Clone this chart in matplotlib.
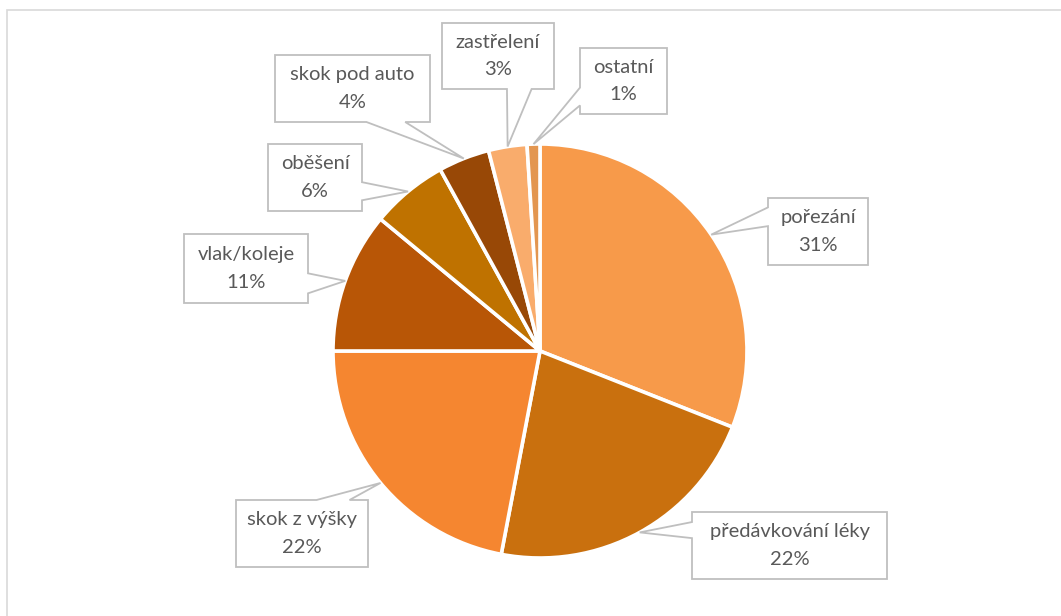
import numpy as np
import matplotlib.pyplot as plt
from matplotlib.patches import Polygon

labels = ["pořezání", "předávkování léky", "skok z výšky", "vlak/koleje",
          "oběšení", "skok pod auto", "zastřelení", "ostatní"]
shares = [31, 22, 22, 11, 6, 4, 3, 1]
colors = ["#F79A4A", "#C9700E", "#F58630", "#B85606",
          "#BF7200", "#984806", "#F9AC6C", "#E39650"]

W, H = 1061, 616
CX, CY, R = 540, 265, 207

# callout boxes: (left, top, right, bottom) in pixels from the top-left,
# the side the pointer leaves from and where its base sits on that side
callouts = [
    ((768, 198, 868, 265), "left", (0.14, 0.42)),
    ((692, 512, 887, 579), "left", (0.15, 0.39)),
    ((236, 500, 368, 567), "top", (0.61, 0.86)),
    ((184, 234, 308, 303), "right", (0.57, 0.86)),
    ((268, 144, 362, 211), "right", (0.57, 0.84)),
    ((275, 55, 430, 122), "bottom", (0.59, 0.84)),
    ((442, 23, 554, 89), "bottom", (0.58, 0.80)),
    ((580, 48, 667, 114), "left", (0.60, 0.87)),
]

plt.rcParams['font.family'] = ['Lato', 'DejaVu Sans']

fig = plt.figure(figsize=(W / 100, H / 100), dpi=100)
ax = fig.add_axes([0, 0, 1, 1])

wedges, _ = ax.pie(shares, colors=colors, startangle=90, counterclock=False,
                   center=(CX, CY), radius=R,
                   wedgeprops=dict(edgecolor="white", linewidth=2.6))
ax.set_xlim(0, W)
ax.set_ylim(0, H)
ax.axis("off")

# thin chart-area border
ax.plot([7, 7, W], [0, H - 10, H - 10], color="#D9D9D9", lw=1.2,
        solid_joinstyle="miter")


def callout_points(box, side, frac, tip):
    x0, y0, x1, y1 = box
    w, h = x1 - x0, y1 - y0
    top = [(x0, y0), (x1, y0)]
    right = [(x1, y0), (x1, y1)]
    bottom = [(x1, y1), (x0, y1)]
    left = [(x0, y1), (x0, y0)]
    if side == "top":
        top = [(x0, y0), (x0 + frac[0] * w, y0), tip, (x0 + frac[1] * w, y0), (x1, y0)]
    elif side == "right":
        right = [(x1, y0), (x1, y0 + frac[0] * h), tip, (x1, y0 + frac[1] * h), (x1, y1)]
    elif side == "bottom":
        bottom = [(x1, y1), (x0 + frac[1] * w, y1), tip, (x0 + frac[0] * w, y1), (x0, y1)]
    else:
        left = [(x0, y1), (x0, y0 + frac[1] * h), tip, (x0, y0 + frac[0] * h), (x0, y0)]
    pts = top + right[1:] + bottom[1:] + left[1:-1]
    return [(px, H - py) for px, py in pts]


for wedge, name, val, (box, side, frac) in zip(wedges, labels, shares, callouts):
    mid = np.deg2rad((wedge.theta1 + wedge.theta2) / 2)
    tip = (CX + R * np.cos(mid), H - (CY + R * np.sin(mid)))
    poly = Polygon(callout_points(box, side, frac, tip), closed=True,
                   facecolor="white", edgecolor="#BFBFBF", lw=1.3, zorder=3)
    ax.add_patch(poly)
    bx = (box[0] + box[2]) / 2
    by = H - (box[1] + box[3]) / 2
    ax.text(bx, by, f"{name}\n{val}%", ha="center", va="center",
            fontsize=14.5, color="#595959", linespacing=1.75, zorder=4)

fig.savefig("out.png", dpi=100)
